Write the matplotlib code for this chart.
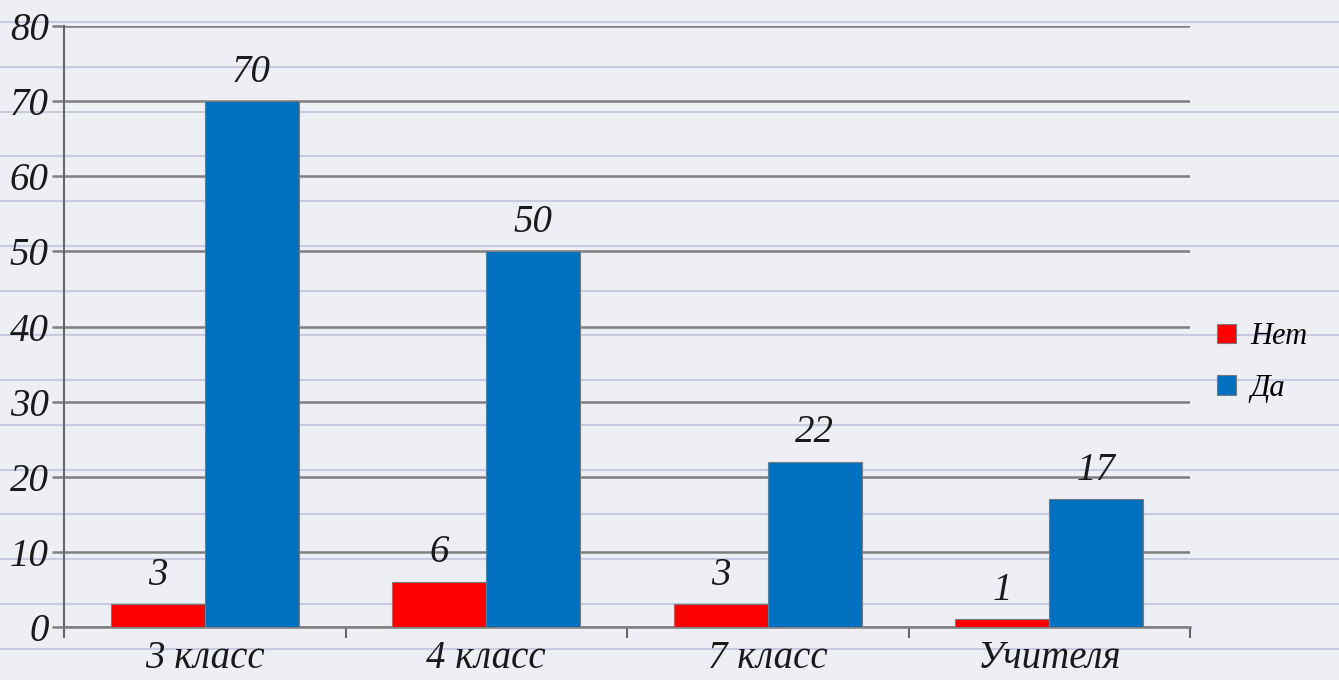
import matplotlib
matplotlib.use("Agg")
import matplotlib.pyplot as plt
import numpy as np

categories = ["3 класс", "4 класс", "7 класс", "Учителя"]
series_names = ["Нет", "Да"]
red_values = [3, 6, 3, 1]
blue_values = [70, 50, 22, 17]
y_ticks = [0, 10, 20, 30, 40, 50, 60, 70, 80]

W, H = 1339, 680
fig = plt.figure(figsize=(W / 100, H / 100), dpi=100)
fig.patch.set_facecolor("#eeeff4")

# notebook-style background lines
bg = fig.add_axes([0, 0, 1, 1], zorder=0)
bg.set_xlim(0, W)
bg.set_ylim(H, 0)
bg.axis("off")
for k in range(16):
    y = 22 + 44.75 * k
    bg.axhline(y, color="#c6cbe2", lw=1.5)

ax = fig.add_axes([64 / W, 1 - 627 / H, (1190 - 64) / W, (627 - 26) / H], zorder=1)
ax.patch.set_alpha(0)

font = dict(family="Liberation Serif", style="italic", size=28)

x = np.arange(len(categories))
bw = 1 / 3
ax.bar(x - bw / 2, red_values, bw, color="#ff0000", edgecolor="#7a7a7a", lw=0.8, zorder=3, label=series_names[0])
ax.bar(x + bw / 2, blue_values, bw, color="#0070c0", edgecolor="#7a7a7a", lw=0.8, zorder=3, label=series_names[1])

for xi, v in zip(x - bw / 2, red_values):
    ax.text(xi, v + 1.4, str(v), ha="center", va="bottom", color="#1a1a1a", **font)
for xi, v in zip(x + bw / 2, blue_values):
    ax.text(xi, v + 1.4, str(v), ha="center", va="bottom", color="#1a1a1a", **font)

ax.set_xlim(-0.5, len(categories) - 0.5)
ax.set_ylim(0, 80)
ax.set_yticks(y_ticks)
ax.set_yticklabels([str(t) for t in y_ticks], fontdict=font, color="#1a1a1a")
ax.yaxis.grid(True, color="#7f7f7f", lw=1.8, zorder=0)
ax.set_axisbelow(True)

ax.set_xticks(np.arange(len(categories) + 1) - 0.5)
ax.set_xticklabels([])
ax.set_xticks(x, minor=True)
ax.set_xticklabels(categories, minor=True, fontdict=font, color="#1a1a1a")
ax.tick_params(axis="x", which="major", direction="out", length=8, width=1.5, color="#666666")
ax.tick_params(axis="x", which="minor", length=0, pad=9)
ax.tick_params(axis="y", direction="out", length=9, width=1.8, color="#7f7f7f", pad=2)

for s in ["top", "right"]:
    ax.spines[s].set_visible(False)
ax.spines["left"].set_color("#666666")
ax.spines["left"].set_linewidth(1.5)
ax.spines["left"].set_bounds(-0.8, 80)
ax.spines["bottom"].set_color("#7f7f7f")
ax.spines["bottom"].set_linewidth(1.8)

leg = fig.legend(loc="upper left", bbox_to_anchor=(1205 / W, 1 - 310 / H), frameon=False,
                 prop=dict(family="Liberation Serif", style="italic", size=22),
                 handlelength=0.62, handleheight=0.62, handletextpad=0.45, labelspacing=0.75,
                 borderaxespad=0)

fig.savefig("out.png", dpi=100, facecolor=fig.get_facecolor())
